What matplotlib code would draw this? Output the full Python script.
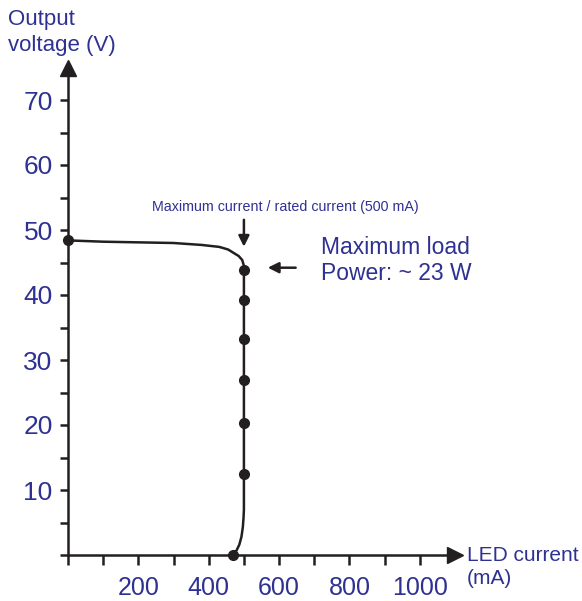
import matplotlib
matplotlib.use("Agg")
import matplotlib.pyplot as plt

# curve (LED current mA, output voltage V)
corriente = [0, 100, 200, 300, 380, 430, 455, 470, 485, 495, 500, 500, 500, 499, 497, 493, 487, 480, 470]
voltaje = [48.4, 48.2, 48.1, 48.0, 47.7, 47.4, 47.0, 46.5, 46.0, 45.4, 44.5, 20.0, 7.0, 5.8, 4.3, 2.8, 1.6, 0.8, 0.0]

# marked points
puntos_x = [0, 500, 500, 500, 500, 500, 500, 470]
puntos_y = [48.4, 43.8, 39.3, 33.2, 27.0, 20.3, 12.5, 0.0]

ticks_x = [200, 400, 600, 800, 1000]
ticks_y = [10, 20, 30, 40, 50, 60, 70]

AZUL = "#2e3192"
NEGRO = "#231f20"
plt.rcParams["font.family"] = ["Liberation Sans", "DejaVu Sans"]

W, H = 582, 601
fig = plt.figure(figsize=(W / 100, H / 100), dpi=100)
ax = fig.add_axes([68 / W, 46 / H, 387 / W, 487.5 / H])
ax.set_xlim(0, 1100)
ax.set_ylim(0, 75)

for lado in ["top", "right"]:
    ax.spines[lado].set_visible(False)
for lado in ["left", "bottom"]:
    ax.spines[lado].set_color(NEGRO)
    ax.spines[lado].set_linewidth(1.8)

# arrow heads on the axes
ax.plot([1100], [0], marker=">", markersize=11, color=NEGRO, clip_on=False)
ax.plot([0], [75], marker="^", markersize=11, color=NEGRO, clip_on=False)

ax.set_xticks(range(0, 1001, 100))
ax.set_xticklabels(["" if v not in ticks_x else str(v) for v in range(0, 1001, 100)])
ax.set_yticks(list(range(0, 71, 10)))
ax.set_yticklabels(["" if v not in ticks_y else str(v) for v in range(0, 71, 10)])
ax.set_yticks(range(5, 71, 10), minor=True)
ax.tick_params(axis="x", direction="out", length=7, width=1.8, color=NEGRO,
               labelsize=18, labelcolor=AZUL, pad=8)
ax.tick_params(axis="y", which="both", direction="out", length=6, width=1.8, color=NEGRO,
               labelsize=19, labelcolor=AZUL, pad=5)

ax.plot(corriente, voltaje, color=NEGRO, linewidth=1.8, clip_on=False)
ax.plot(puntos_x, puntos_y, "o", color=NEGRO, markersize=7, clip_on=False, zorder=5)

# axis titles
fig.text(8 / W, 1 - 9 / H, "Output\nvoltage (V)", color=AZUL, fontsize=16,
         ha="left", va="top", linespacing=1.3)
fig.text(467 / W, 1 - 546 / H, "LED current\n(mA)", color=AZUL, fontsize=15,
         ha="left", va="top", linespacing=1.25)

# annotations
ax.text(617, 53.5, "Maximum current / rated current (500 mA)", color=AZUL,
        fontsize=10.3, ha="center", va="center")
ax.annotate("", xy=(500, 47.0), xytext=(500, 52),
            arrowprops=dict(arrowstyle="-|>", color=NEGRO, lw=1.8, mutation_scale=16))
ax.annotate("", xy=(560, 44.2), xytext=(655, 44.2),
            arrowprops=dict(arrowstyle="-|>", color=NEGRO, lw=1.8, mutation_scale=16))
ax.text(718, 45.3, "Maximum load\nPower: ~ 23 W", color=AZUL, fontsize=16.5,
        ha="left", va="center", linespacing=1.15)

fig.savefig("out.png", dpi=100)
